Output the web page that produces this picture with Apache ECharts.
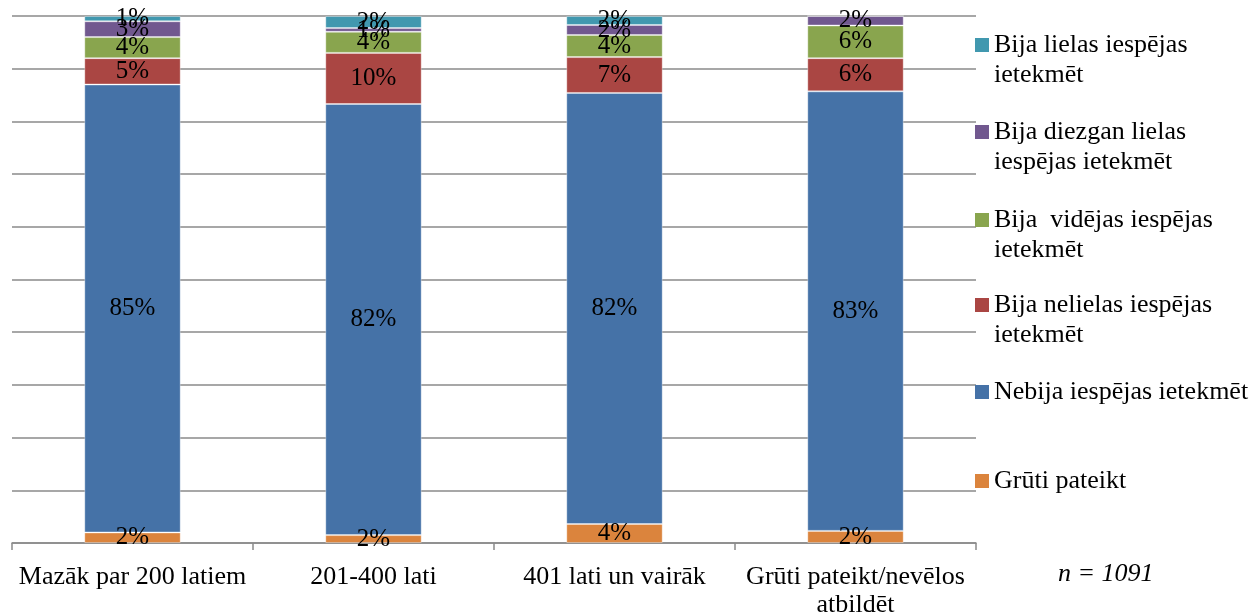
<!DOCTYPE html>
<html>
<head>
<meta charset="utf-8">
<script src="https://cdn.jsdelivr.net/npm/echarts@6/dist/echarts.min.js"></script>
<style>
html,body{margin:0;padding:0;background:#fff;}
#c{width:1258px;height:615px;}
</style>
</head>
<body>
<div id="c"></div>
<script>
const categories = ['Mazāk par 200 latiem', '201-400 lati', '401 lati un vairāk', 'Grūti pateikt/nevēlos atbildēt'];
const categoryLabels = ['Mazāk par 200 latiem', '201-400 lati', '401 lati un vairāk', 'Grūti pateikt/nevēlos\natbildēt'];
const seriesNames = ['Grūti pateikt', 'Nebija iespējas ietekmēt', 'Bija nelielas iespējas ietekmēt', 'Bija  vidējas iespējas ietekmēt', 'Bija diezgan lielas iespējas ietekmēt', 'Bija lielas iespējas ietekmēt'];
const legendLabels = ['Grūti pateikt', 'Nebija iespējas ietekmēt', 'Bija nelielas iespējas\nietekmēt', 'Bija  vidējas iespējas\nietekmēt', 'Bija diezgan lielas\niespējas ietekmēt', 'Bija lielas iespējas\nietekmēt'];
const gruti = [2, 1.5, 3.6, 2.3];
const nebija = [85, 81.8, 81.8, 83.4];
const nelielas = [5, 9.7, 6.8, 6.3];
const videjas = [4, 4, 4.2, 6.2];
const diezgan = [3, 0.7, 1.9, 1.8];
const lielas = [1, 2.3, 1.7, 0];
const colors = ['#DB843D', '#4572A7', '#AA4643', '#89A54E', '#71588F', '#4198AF'];
const seriesData = [gruti, nebija, nelielas, videjas, diezgan, lielas];
const FONT = "'Liberation Serif', 'Times New Roman', serif";
const FS = 26;

const chart = echarts.init(document.getElementById('c'));

const series = seriesNames.map((name, i) => ({
  name: name,
  type: 'bar',
  stack: 'total',
  barWidth: '40%',
  data: seriesData[i],
  itemStyle: { color: colors[i], borderColor: 'rgba(255,255,255,0.35)', borderWidth: 1 },
  label: {
    show: true,
    position: 'inside',
    color: '#000',
    fontFamily: FONT,
    fontSize: 25,
    formatter: p => p.value > 0 ? Math.round(p.value) + '%' : ''
  }
}));

// square icon at the top of a taller (invisible) box so it lines up with the first text line
const TOP_ICON = 'path://M0,0L14,0L14,14L0,14ZM0,44L0,44';
const legendTops = { 5: 30, 4: 117, 3: 205, 2: 290, 1: 377, 0: 466 };
const legends = [5, 4, 3, 2, 1, 0].map(i => {
  const two = legendLabels[i].indexOf('\n') >= 0;
  return {
    data: [seriesNames[i]],
    left: 975,
    top: legendTops[i],
    padding: 0,
    itemWidth: 14,
    itemHeight: two ? 44 : 14,
    icon: two ? TOP_ICON : 'rect',
    itemStyle: { borderWidth: 0 },
    selectedMode: false,
    formatter: () => legendLabels[i],
    textStyle: {
      fontFamily: FONT,
      fontSize: FS,
      color: '#000',
      lineHeight: 30
    }
  };
});

chart.setOption({
  animation: false,
  color: colors,
  grid: { left: 12, right: 282, top: 16, bottom: 72, containLabel: false, outerBoundsMode: 'none' },
  legend: legends,
  xAxis: {
    type: 'category',
    data: categories,
    axisLine: { lineStyle: { color: '#8a8a8a', width: 1.5 } },
    axisTick: { show: true, length: 7, lineStyle: { color: '#8a8a8a', width: 1.5 } },
    axisLabel: {
      interval: 0,
      margin: 20,
      color: '#000',
      fontFamily: FONT,
      fontSize: FS,
      lineHeight: 28,
      formatter: (v, idx) => categoryLabels[idx]
    }
  },
  yAxis: {
    type: 'value',
    min: 0,
    max: 100,
    interval: 10,
    axisLabel: { show: false },
    axisLine: { show: false },
    axisTick: { show: false },
    splitLine: { lineStyle: { color: '#8a8a8a', width: 1.5 } }
  },
  graphic: [{
    type: 'text',
    left: 1058,
    top: 561,
    style: { text: 'n = 1091', fontFamily: FONT, fontSize: FS, fontStyle: 'italic', fill: '#000' }
  }],
  series: series
});
</script>
</body>
</html>
